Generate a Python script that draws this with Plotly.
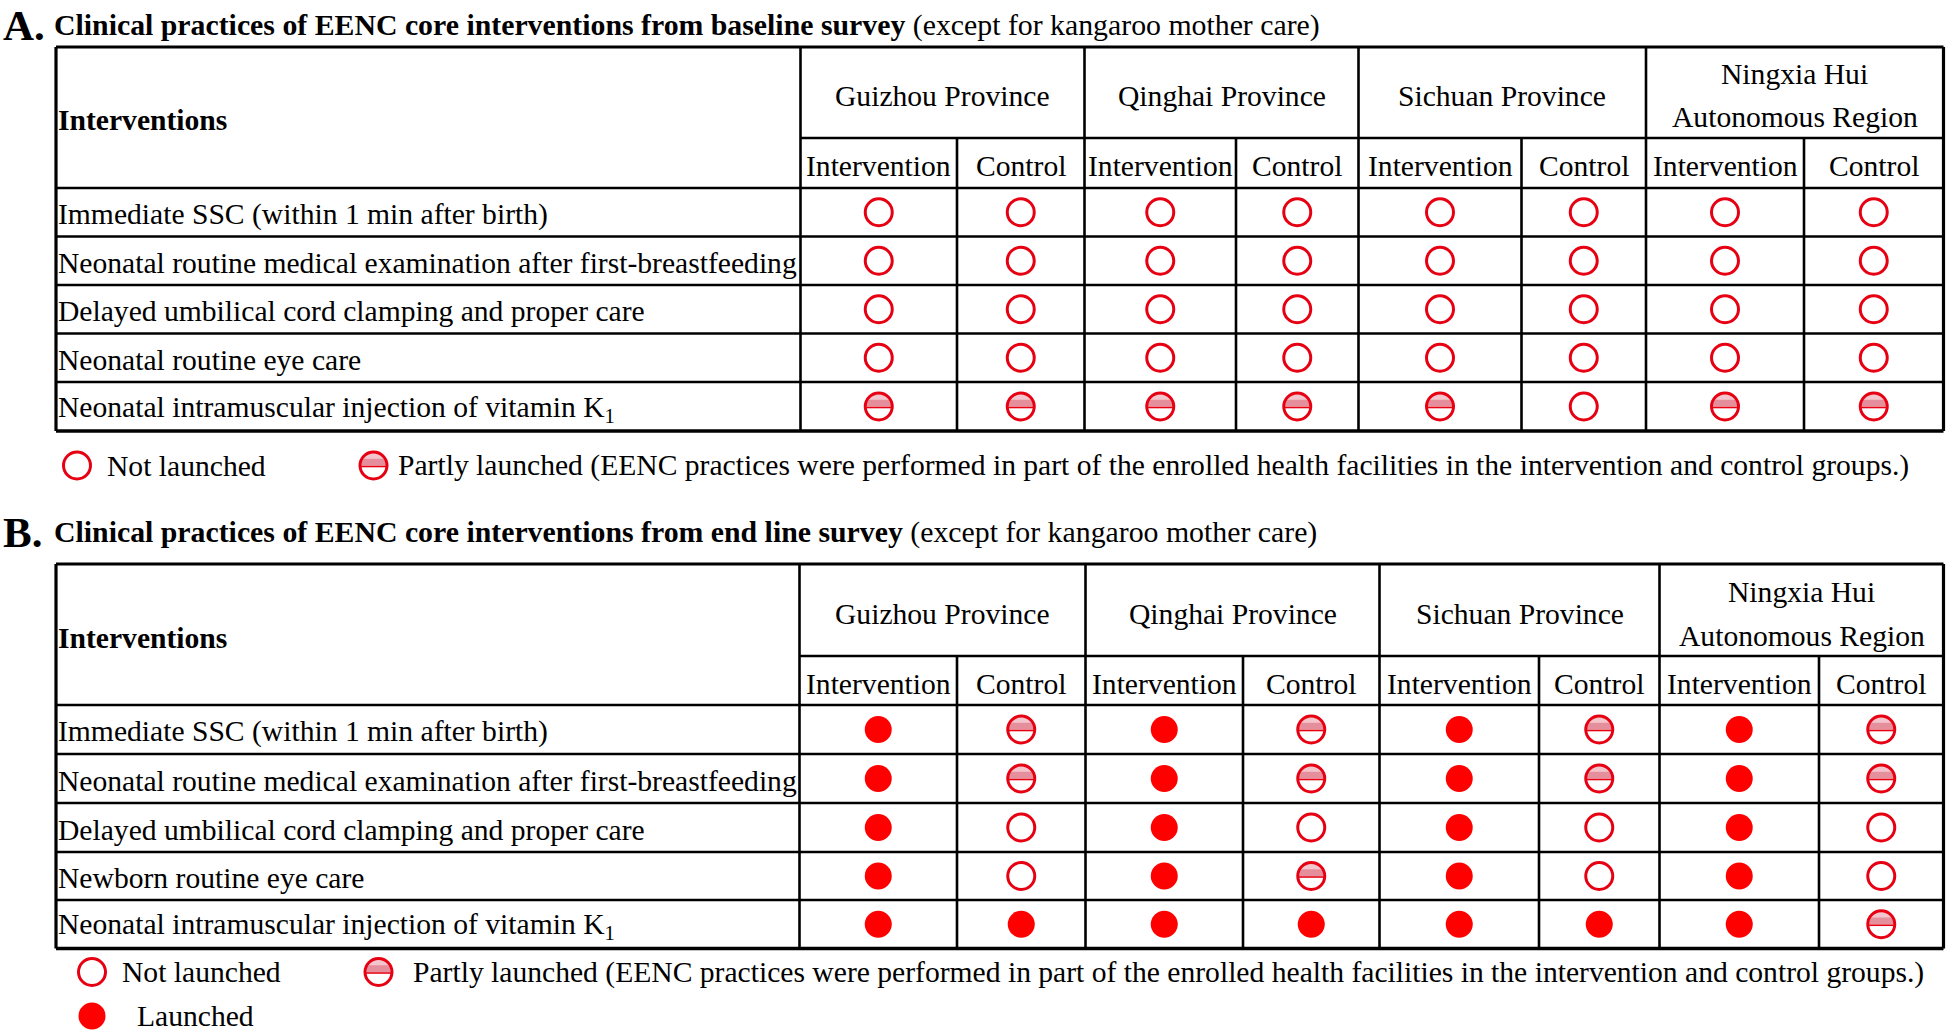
import numpy as np
import plotly.graph_objects as go

W, H = 1952, 1036

# ---------------- data ----------------
provinces = ["Guizhou Province", "Qinghai Province", "Sichuan Province",
             "Ningxia Hui<br>Autonomous Region"]
arms = ["Intervention", "Control"]

rows_A = ["Immediate SSC (within 1 min after birth)",
          "Neonatal routine medical examination after first-breastfeeding",
          "Delayed umbilical cord clamping and proper care",
          "Neonatal routine eye care",
          "Neonatal intramuscular injection of vitamin K<sub>1</sub>"]
rows_B = ["Immediate SSC (within 1 min after birth)",
          "Neonatal routine medical examination after first-breastfeeding",
          "Delayed umbilical cord clamping and proper care",
          "Newborn routine eye care",
          "Neonatal intramuscular injection of vitamin K<sub>1</sub>"]

# 0 = not launched, 1 = partly launched, 2 = launched
# columns: Guizhou I, Guizhou C, Qinghai I, Qinghai C, Sichuan I, Sichuan C, Ningxia I, Ningxia C
status_A = [[0, 0, 0, 0, 0, 0, 0, 0],
            [0, 0, 0, 0, 0, 0, 0, 0],
            [0, 0, 0, 0, 0, 0, 0, 0],
            [0, 0, 0, 0, 0, 0, 0, 0],
            [1, 1, 1, 1, 1, 0, 1, 1]]
status_B = [[2, 1, 2, 1, 2, 1, 2, 1],
            [2, 1, 2, 1, 2, 1, 2, 1],
            [2, 0, 2, 0, 2, 0, 2, 0],
            [2, 0, 2, 1, 2, 0, 2, 0],
            [2, 2, 2, 2, 2, 2, 2, 1]]

title_A = "Clinical practices of EENC core interventions from baseline survey"
title_B = "Clinical practices of EENC core interventions from end line survey"
title_note = "(except for kangaroo mother care)"
legend_labels = ["Not launched",
                 "Partly launched (EENC practices were performed in part of the enrolled health facilities in the intervention and control groups.)",
                 "Launched"]

# ---------------- layout geometry (pixels) ----------------
FONT = "Liberation Serif"
FS = 29.6
RED = "#ff0000"
RED_LINE = "#e60012"
PINK_TOP = "#f3c6cd"
PINK = "#e58f9c"

tables = [
    dict(top=47, h1=138, h2=188, row_edges=[188, 236.5, 285, 333.5, 382, 431],
         cols=[56, 800.5, 957, 1084.5, 1236, 1358.5, 1521.5, 1646, 1804, 1943.5],
         rows=rows_A, status=status_A, letter="A.", title=title_A, ty=25,
         head_y=119.5, prov_y=96, ning_y=(73.5, 117), arm_y=165.5),
    dict(top=564, h1=656, h2=705, row_edges=[705, 754, 803, 852, 900, 948.5],
         cols=[56, 799.5, 957, 1085.5, 1243, 1379.5, 1539, 1659.5, 1819, 1943.5],
         rows=rows_B, status=status_B, letter="B.", title=title_B, ty=532,
         head_y=637.5, prov_y=614, ning_y=(591.5, 636), arm_y=683.5),
]

fig = go.Figure()
shapes = []
annots = []


def hline(y, x0, x1, w=2.6):
    shapes.append(dict(type="line", xref="x", yref="y", x0=x0, x1=x1, y0=y, y1=y,
                       line=dict(color="black", width=w)))


def vline(x, y0, y1, w=2.6):
    shapes.append(dict(type="line", xref="x", yref="y", x0=x, x1=x, y0=y0, y1=y1,
                       line=dict(color="black", width=w)))


def text(x, y, s, size=FS, anchor="left", bold=False, yanchor="middle"):
    annots.append(dict(x=x, y=y, xref="x", yref="y", text=("<b>%s</b>" % s) if bold else s,
                       showarrow=False, xanchor=anchor, yanchor=yanchor,
                       font=dict(family=FONT, size=size, color="black")))


marks = {0: ([], []), 1: ([], []), 2: ([], [])}

for t in tables:
    c = t["cols"]
    re_ = t["row_edges"]
    top, bot = t["top"], re_[-1]
    # borders
    hline(top, c[0], c[-1], 3.2)
    hline(bot, c[0], c[-1], 3.6)
    hline(t["h1"], c[1], c[-1])
    for y in re_[:-1]:
        hline(y, c[0], c[-1])
    vline(c[0], top, bot, 3.2)
    vline(c[-1], top, bot, 3.2)
    for i in (1, 3, 5, 7):
        vline(c[i], top, bot)
    for i in (2, 4, 6, 8):
        vline(c[i], t["h1"], bot)
    # title
    text(1, t["ty"] - 25, t["letter"], size=43, bold=True, yanchor="top")
    annots.append(dict(x=52, y=t["ty"], xref="x", yref="y",
                       text="<b>%s</b> %s" % (t["title"], title_note), showarrow=False,
                       xanchor="left", yanchor="middle",
                       font=dict(family=FONT, size=29.8, color="black")))
    # headers
    text(c[0], t["head_y"], "Interventions", bold=True)
    for p, name in enumerate(provinces):
        xc = (c[1 + 2 * p] + c[3 + 2 * p]) / 2
        if "<br>" in name:
            l1, l2 = name.split("<br>")
            text(xc, t["ning_y"][0], l1, anchor="center")
            text(xc, t["ning_y"][1], l2, anchor="center")
        else:
            text(xc, t["prov_y"], name, anchor="center")
        for a, arm in enumerate(arms):
            k = 1 + 2 * p + a
            text((c[k] + c[k + 1]) / 2, t["arm_y"], arm, anchor="center")
    # rows
    for r, lab in enumerate(t["rows"]):
        yc = (re_[r] + re_[r + 1]) / 2
        text(c[0], yc + 2, lab)
        for k, s in enumerate(t["status"][r]):
            xc = (c[1 + k] + c[2 + k]) / 2
            marks[s][0].append(xc)
            marks[s][1].append(yc)

# legend positions (pixels)
leg_items = [(0, 77, 465.5, 104.5), (1, 373.5, 465.5, 396),
             (0, 92, 972, 119.5), (1, 378.5, 972, 411), (2, 92, 1016, 134.5)]
for s, mx, my, tx in leg_items:
    marks[s][0].append(mx)
    marks[s][1].append(my)
    text(tx, my, legend_labels[s])

# partly launched: pinkish gradient top half + mid line
R = 12.5
th = np.linspace(np.pi, 2 * np.pi, 40)
for xc, yc in zip(*marks[1]):
    xs = list(xc + R * np.cos(th)) + [xc - R]
    ys = list(yc + R * np.sin(th)) + [yc]
    fig.add_trace(go.Scatter(x=xs, y=ys, mode="lines", fill="toself", fillcolor=PINK_TOP,
                             line=dict(width=0), hoverinfo="skip", showlegend=False))
    # darker lower band of the top half (gradient look)
    ang = np.arcsin(0.55)
    tb = np.linspace(np.pi, np.pi + ang, 12)
    xs2 = list(xc + R * np.cos(tb)) + list(xc - R * np.cos(tb[::-1]))
    ys2 = list(yc + R * np.sin(tb)) + list(yc + R * np.sin(tb[::-1]))
    fig.add_trace(go.Scatter(x=xs2, y=ys2, mode="lines", fill="toself", fillcolor=PINK,
                             line=dict(width=0), hoverinfo="skip", showlegend=False))
    shapes.append(dict(type="line", xref="x", yref="y", x0=xc - R, x1=xc + R, y0=yc + 1, y1=yc + 1,
                       line=dict(color=RED_LINE, width=1.6)))

fig.add_trace(go.Scatter(x=marks[2][0], y=marks[2][1], mode="markers", showlegend=False,
                         hoverinfo="skip",
                         marker=dict(symbol="circle", size=27, color=RED, line=dict(width=0))))
for s in (0, 1):
    fig.add_trace(go.Scatter(x=marks[s][0], y=marks[s][1], mode="markers", showlegend=False,
                             hoverinfo="skip",
                             marker=dict(symbol="circle-open", size=27, color=RED_LINE,
                                         line=dict(width=3, color=RED_LINE))))

fig.update_layout(
    width=W, height=H, autosize=False,
    margin=dict(l=0, r=0, t=0, b=0),
    paper_bgcolor="white", plot_bgcolor="white",
    xaxis=dict(range=[0, W], visible=False, fixedrange=True),
    yaxis=dict(range=[H, 0], visible=False, fixedrange=True),
    shapes=shapes, annotations=annots,
)

fig.write_html("out.html", config={"displayModeBar": False},
               post_script="document.body.style.margin='0';document.body.style.overflow='hidden';")
